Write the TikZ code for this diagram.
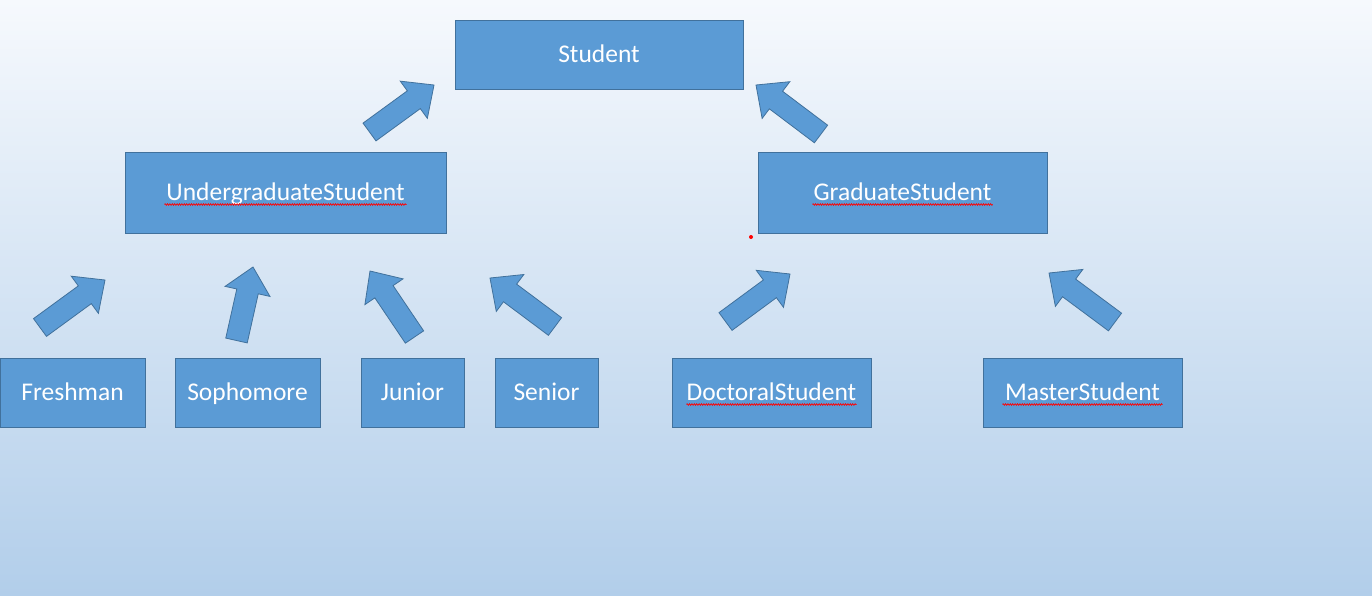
\documentclass[tikz,border=0pt]{standalone}
\usepackage{fontspec}
\setmainfont{Carlito}
\usetikzlibrary{calc,decorations.pathmorphing}
\definecolor{boxfill}{HTML}{5B9BD5}
\definecolor{boxline}{HTML}{41719C}
\definecolor{bgtop}{HTML}{F6F9FD}
\definecolor{bgbot}{HTML}{B2CEEA}
\newcommand\boxfont{\fontsize{25.5}{30}\selectfont}
\tikzset{
  box/.style={draw=boxline, fill=boxfill, line width=1pt, text=white, font=\boxfont, inner sep=0pt, text height=20pt, text depth=4pt},
  blockarrow/.style={draw=boxline, fill=boxfill, line width=0.8pt, line join=miter},
  squig/.style={draw=red, line width=0.7pt, decorate, decoration={zigzag, amplitude=0.8pt, segment length=2.4pt}}
}
\newcommand\blockarr[2]{%
  \coordinate (hb) at ($(#2)!25pt!(#1)$);
  \filldraw[blockarrow] ($(#1)!11pt!-90:(#2)$) -- ($(hb)!11pt!-90:(#2)$) -- ($(hb)!23pt!-90:(#2)$) -- (#2)
    -- ($(hb)!23pt!90:(#2)$) -- ($(hb)!11pt!90:(#2)$) -- ($(#1)!11pt!90:(#2)$) -- cycle;}
% #1 node, #2 half width of its text
\newcommand\squigunder[2]{%
  \draw[squig] ($(#1.base)+(-#2,4)$) -- ($(#1.base)+(#2,4)$);}
\begin{document}
\begin{tikzpicture}[x=1pt,y=-1pt]
\useasboundingbox (0,0) rectangle (1372,595);
\shade[top color=bgtop, bottom color=bgbot] (0,0) rectangle (1372,595);

\node[box, minimum width=288pt, minimum height=69pt] (student) at (599,54.5) {Student};
\node[box, minimum width=321pt, minimum height=81pt] (ug) at (285.5,192.5) {UndergraduateStudent};
\node[box, minimum width=289pt, minimum height=81pt] (grad) at (902.5,192.5) {GraduateStudent};
\node[box, minimum width=145pt, minimum height=69pt] (fresh) at (72.5,392.5) {Freshman};
\node[box, minimum width=145pt, minimum height=69pt] (soph) at (247.5,392.5) {Sophomore};
\node[box, minimum width=103pt, minimum height=69pt] (junior) at (412.5,392.5) {Junior};
\node[box, minimum width=103pt, minimum height=69pt] (senior) at (546.5,392.5) {Senior};
\node[box, minimum width=199pt, minimum height=69pt] (doc) at (771.5,392.5) {DoctoralStudent};
\node[box, minimum width=199pt, minimum height=69pt] (master) at (1082.5,392.5) {MasterStudent};

\squigunder{ug}{121}
\squigunder{grad}{90}
\squigunder{doc}{85}
\squigunder{master}{80}

\coordinate (a1t) at (369.5,132); \coordinate (a1h) at (434,85);
\coordinate (a2t) at (821,134);   \coordinate (a2h) at (756,85);
\coordinate (frt) at (40,327.5);  \coordinate (frh) at (105,280);
\coordinate (sot) at (236.5,340.5); \coordinate (soh) at (253,267);
\coordinate (jut) at (414.5,337); \coordinate (juh) at (370,271);
\coordinate (set) at (555,326.5); \coordinate (seh) at (490,278);
\coordinate (dot) at (725.5,321.5); \coordinate (doh) at (790,274);
\coordinate (mat) at (1115,322);  \coordinate (mah) at (1049,273);

\blockarr{a1t}{a1h}
\blockarr{a2t}{a2h}
\blockarr{frt}{frh}
\blockarr{sot}{soh}
\blockarr{jut}{juh}
\blockarr{set}{seh}
\blockarr{dot}{doh}
\blockarr{mat}{mah}

\fill[red] (751,237) circle (2);
\end{tikzpicture}
\end{document}
